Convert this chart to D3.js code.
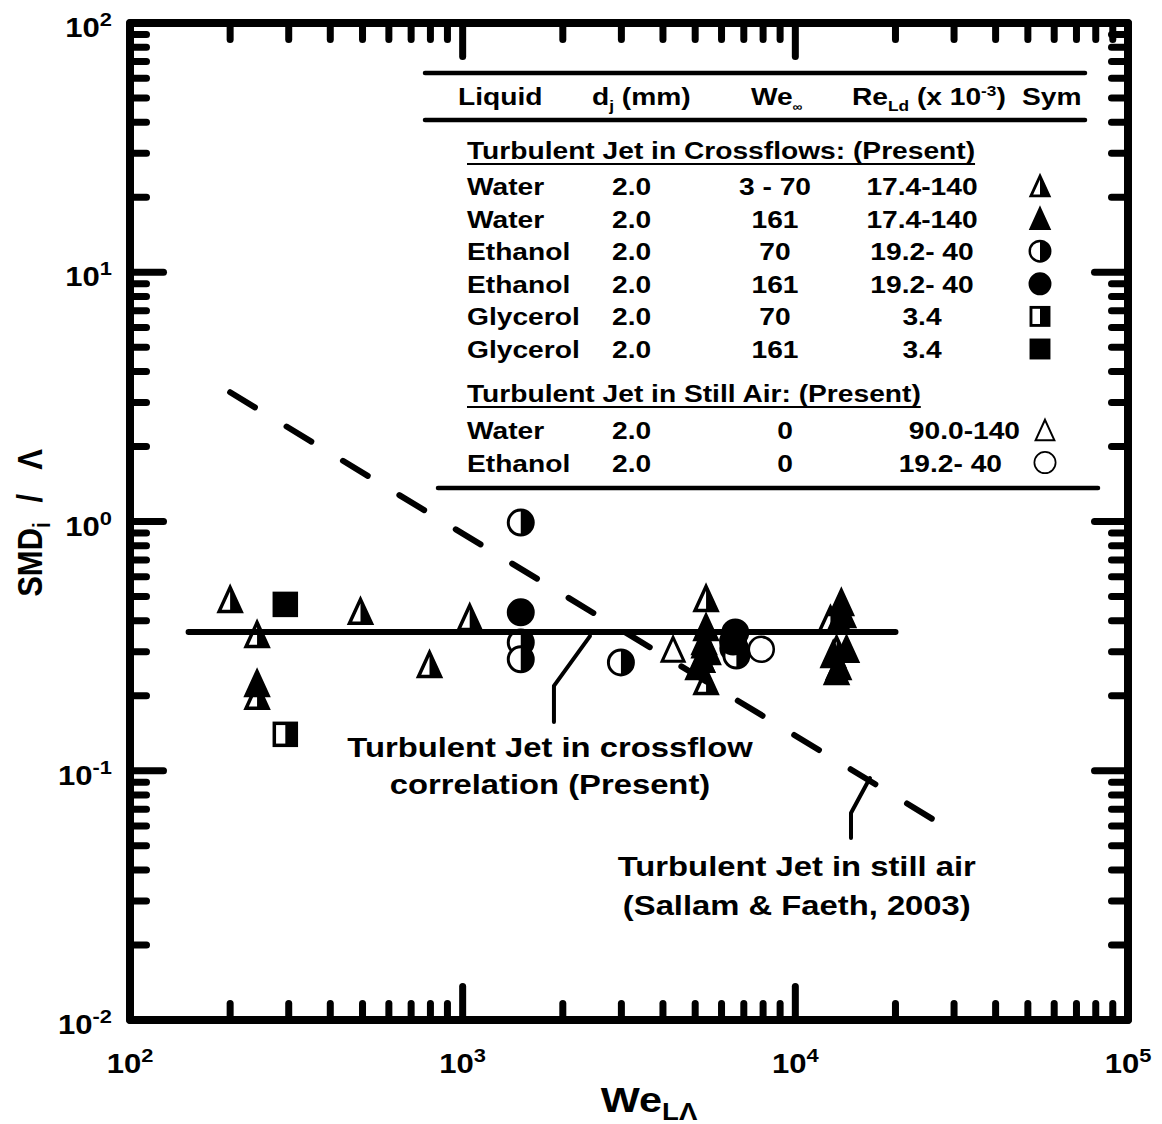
<!DOCTYPE html>
<meta charset="utf-8">
<style>
body { margin: 0; background: #fff; }
text { font-family: "Liberation Sans", Arial, sans-serif; font-weight: bold; fill: #000; }
</style>
<svg width="1162" height="1124"></svg>
<script src="https://cdn.jsdelivr.net/npm/d3@7"></script>
<script>

// ---- data ----
var waterCross70   = [[200,0.487],[241,0.352],[241,0.199],[493,0.436],[795,0.267],[1050,0.412],
                      [5390,0.491],[5320,0.32],[5250,0.28],[5390,0.228],[12750,0.405],[13300,0.307]];
var waterCross161  = [[241,0.224],[5390,0.376],[5320,0.33],[5470,0.301],[5250,0.28],[5100,0.262],
                      [13750,0.473],[13950,0.424],[13500,0.40],[14250,0.307],[13000,0.293],[13500,0.262],[13300,0.25]];
var ethCross70     = [[1495,0.99],[1495,0.327],[1495,0.28],[2990,0.272],[6600,0.307],[6650,0.29]];
var ethCross161    = [[1495,0.432],[6600,0.359],[6500,0.33]];
var glyCross70     = [[293,0.14]];
var glyCross161    = [[293,0.465]];
var waterStill     = [[4290,0.307]];
var ethStill       = [[7900,0.307],[6500,0.31],[6650,0.295]];

var corrLine       = [[150,0.36],[20000,0.36]];        // present correlation
var stillAirLine   = [[200,3.3],[28000,0.06]];         // Sallam & Faeth, 2003
var corrLeader     = [[2414,0.347],[1881,0.219],[1881,0.157]];
var stillLeader    = [[16760,0.0935],[14700,0.0677],[14700,0.0537]];

var legLiquid = ["Water","Water","Ethanol","Ethanol","Glycerol","Glycerol"];
var legDj     = ["2.0","2.0","2.0","2.0","2.0","2.0"];
var legWe     = ["3 - 70","161","70","161","70","161"];
var legRe     = ["17.4-140","17.4-140","19.2- 40","19.2- 40","3.4","3.4"];
var legSym    = ["halfTri","tri","halfCircle","circle","halfSquare","square"];
var stillLiquid = ["Water","Ethanol"];
var stillDj     = ["2.0","2.0"];
var stillWe     = ["0","0"];
var stillRe     = ["90.0-140","19.2- 40"];
var stillSym    = ["openTri","openCircle"];

// still-air points first so the crossflow symbols sit on top
var series = [
  {sym:"openTri", data:waterStill}, {sym:"openCircle", data:ethStill},
  {sym:"halfTri", data:waterCross70}, {sym:"tri", data:waterCross161},
  {sym:"halfCircle", data:ethCross70}, {sym:"circle", data:ethCross161},
  {sym:"halfSquare", data:glyCross70}, {sym:"square", data:glyCross161}
];

// ---- setup ----
var svg = d3.select("svg");
var SX = 1.15;   // the original figure is stretched horizontally

var x = d3.scaleLog().domain([1e2, 1e5]).range([130, 1128]);
var y = d3.scaleLog().domain([1e-2, 1e2]).range([1020, 23]);

function isMajor(v) { var l = Math.log10(v); return Math.abs(l - Math.round(l)) < 1e-9; }

// text with sub/superscript parts: [{t, size, shift, dx}]
function label(parent, px, py, anchor, size, parts, transform) {
  var g = parent.append("g")
      .attr("transform", "translate(" + px + "," + py + ")" + (transform || " scale(" + SX + ",1)"));
  var t = g.append("text").attr("text-anchor", anchor).attr("font-size", size);
  var cur = 0;
  parts.forEach(function(p) {
    if (typeof p === "string") p = {t: p};
    var sh = p.shift || 0;
    var ts = t.append("tspan").text(p.t).attr("dy", sh - cur);
    if (p.size) ts.attr("font-size", p.size);
    if (p.dx) ts.attr("dx", p.dx);
    cur = sh;
  });
  return t;
}

function symbol(parent, type, cx, cy, k, sw) {
  var g = parent.append("g").attr("transform", "translate(" + cx + "," + cy + ") scale(" + k + ")");
  var fill = type.indexOf("half") === 0 ? "half" : type.indexOf("open") === 0 ? "open" : "full";
  var shape = type.replace(/^(half|open)/, "").toLowerCase();
  var col = fill === "full" ? "#000" : "#fff";
  var w = sw || 3.5;
  if (shape === "tri") {
    g.append("path").attr("d", "M0,-12L11,12L-11,12Z")
      .attr("fill", col).attr("stroke", "#000").attr("stroke-width", w).attr("stroke-linejoin", "miter");
    if (fill === "half") g.append("path").attr("d", "M0,-12L11,12L0,12Z").attr("fill", "#000");
  } else if (shape === "circle") {
    g.append("circle").attr("r", 12.5)
      .attr("fill", col).attr("stroke", "#000").attr("stroke-width", w * 0.85);
    if (fill === "half") g.append("path").attr("d", "M0,-12.5A12.5,12.5 0 0 1 0,12.5Z").attr("fill", "#000");
  } else {
    g.append("rect").attr("x", -11).attr("y", -11).attr("width", 22).attr("height", 22)
      .attr("fill", col).attr("stroke", "#000").attr("stroke-width", w);
    if (fill === "half") g.append("rect").attr("x", 0).attr("y", -11).attr("width", 11).attr("height", 22).attr("fill", "#000");
  }
}

// ---- markers ----
var marks = svg.append("g");
series.forEach(function(s) {
  s.data.forEach(function(d) {
    symbol(marks, s.sym, x(d[0]), y(d[1]), 1, s.sym.indexOf("open") === 0 ? 3 : 3.5);
  });
});

// ---- lines ----
var line = d3.line().x(function(d) { return x(d[0]); }).y(function(d) { return y(d[1]); });

svg.append("path").attr("d", line(corrLine))
  .attr("fill", "none").attr("stroke", "#000").attr("stroke-width", 6).attr("stroke-linecap", "round");
svg.append("path").attr("d", line(stillAirLine))
  .attr("fill", "none").attr("stroke", "#000").attr("stroke-width", 6)
  .attr("stroke-linecap", "round").attr("stroke-dasharray", "29,37");
[corrLeader, stillLeader].forEach(function(l) {
  svg.append("path").attr("d", line(l))
    .attr("fill", "none").attr("stroke", "#000").attr("stroke-width", 4)
    .attr("stroke-linecap", "round").attr("stroke-linejoin", "round");
});

// ---- annotations ----
var ann1 = [x(1830), y(0.1136)];
label(svg, ann1[0], ann1[1], "middle", 28.5, ["Turbulent Jet in crossflow"]);
label(svg, ann1[0], ann1[1] + 37, "middle", 28.5, ["correlation (Present)"]);
var ann2 = [x(10100), y(0.0378)];
label(svg, ann2[0], ann2[1], "middle", 28.5, ["Turbulent Jet in still air"]);
label(svg, ann2[0], ann2[1] + 39, "middle", 28.5, ["(Sallam & Faeth, 2003)"]);

// ---- frame and ticks ----
svg.append("rect")
  .attr("x", x(1e2)).attr("y", y(1e2))
  .attr("width", x(1e5) - x(1e2)).attr("height", y(1e-2) - y(1e2))
  .attr("fill", "none").attr("stroke", "#000").attr("stroke-width", 8).attr("stroke-linejoin", "round");

var ticks = svg.append("g").attr("stroke", "#000").attr("stroke-width", 7).attr("stroke-linecap", "round");
var x0 = x.range()[0], x1 = x.range()[1], y0 = y.range()[0], y1 = y.range()[1];
x.ticks().forEach(function(v) {
  var L = isMajor(v) ? 33.5 : 16.5, px = x(v);
  ticks.append("line").attr("x1", px).attr("x2", px).attr("y1", y0).attr("y2", y0 - L);
  ticks.append("line").attr("x1", px).attr("x2", px).attr("y1", y1).attr("y2", y1 + L);
});
y.ticks().forEach(function(v) {
  var L = isMajor(v) ? 33.5 : 16.5, py = y(v);
  ticks.append("line").attr("y1", py).attr("y2", py).attr("x1", x0).attr("x2", x0 + L);
  ticks.append("line").attr("y1", py).attr("y2", py).attr("x1", x1).attr("x2", x1 - L);
});

// tick labels
x.ticks().filter(isMajor).forEach(function(v) {
  var e = Math.round(Math.log10(v));
  label(svg, x(v), 1073, "middle", 27, ["10", {t: String(e), size: 19, shift: -11}]);
});
y.ticks().filter(isMajor).forEach(function(v) {
  var e = Math.round(Math.log10(v));
  label(svg, x0 - 18, y(v) + 14, "end", 27, ["10", {t: String(e), size: 19, shift: -11}]);
});

// axis titles
label(svg, 649, 1112, "middle", 36, ["We", {t: "L\u039B", size: 24, shift: 8}]);
label(svg, 42, 523, "middle", 31,
  ["SMD", {t: "i", size: 20, shift: 7}, {t: "/", dx: 20}, {t: "\u039B", dx: 24}],
  " rotate(-90) scale(1," + SX + ")");

// ---- legend ----
var leg = svg.append("g");
var rule = function(xa, xb, yy) {
  leg.append("line").attr("x1", xa).attr("x2", xb).attr("y1", yy).attr("y2", yy)
    .attr("stroke", "#000").attr("stroke-width", 4.5).attr("stroke-linecap", "round");
};
rule(425, 1085, 73);
rule(425, 1085, 120);
rule(438, 1098, 488);

var FS = 24.5;
label(leg, 458, 105, "start", FS, ["Liquid"]);
label(leg, 592, 105, "start", FS, ["d", {t: "j", size: 15, shift: 6}, {t: " (mm)", shift: 0}]);
label(leg, 751, 105, "start", FS, ["We", {t: "\u221E", size: 12, shift: 6}]);
label(leg, 852, 105, "start", FS, ["Re", {t: "Ld", size: 15, shift: 6}, {t: " (x 10", shift: 0},
                                   {t: "-3", size: 15, shift: -9}, {t: ")", shift: 0}]);
label(leg, 1022, 105, "start", FS, ["Sym"]);

function heading(txt, yy) {
  var t = label(leg, 467, yy, "start", FS, [txt]);
  var w = t.node().getComputedTextLength() * SX;
  leg.append("line").attr("x1", 467).attr("x2", 467 + w).attr("y1", yy + 5).attr("y2", yy + 5)
    .attr("stroke", "#000").attr("stroke-width", 2);
}
heading("Turbulent Jet in Crossflows: (Present)", 159);
legLiquid.forEach(function(n, i) {
  var yy = 195 + i * 32.6;
  label(leg, 467, yy, "start", FS, [n]);
  label(leg, 612, yy, "start", FS, [legDj[i]]);
  label(leg, 775, yy, "middle", FS, [legWe[i]]);
  label(leg, 922, yy, "middle", FS, [legRe[i]]);
  symbol(leg, legSym[i], 1040, yy - 9, 0.82, 3.5);
});
heading("Turbulent Jet in Still Air: (Present)", 402);
stillLiquid.forEach(function(n, i) {
  var yy = 439 + i * 32.6;
  label(leg, 467, yy, "start", FS, [n]);
  label(leg, 612, yy, "start", FS, [stillDj[i]]);
  label(leg, 785, yy, "middle", FS, [stillWe[i]]);
  label(leg, 1020 - (i ? 18 : 0), yy, "end", FS, [stillRe[i]]);
  symbol(leg, stillSym[i], 1045, yy - 9, 0.85, 2.4);
});

</script>
